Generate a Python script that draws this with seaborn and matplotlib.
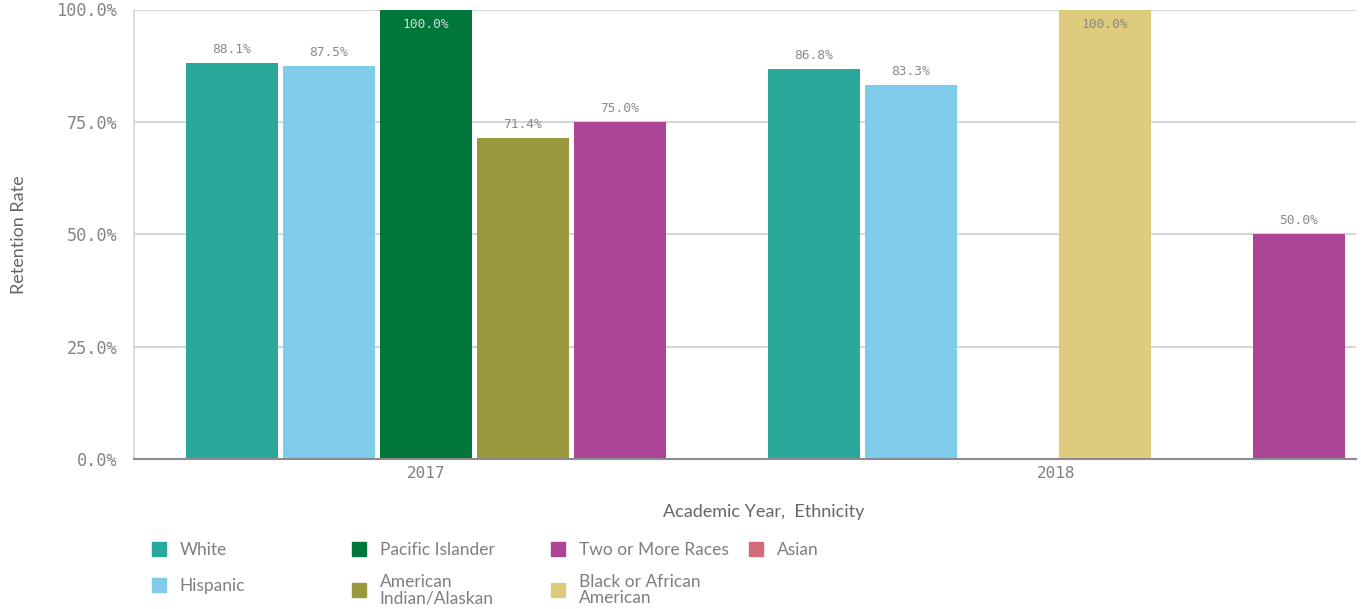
import matplotlib
matplotlib.use("Agg")
import matplotlib.pyplot as plt
from matplotlib.lines import Line2D
from matplotlib.ticker import FuncFormatter
import seaborn as sns
import pandas as pd
import numpy as np

# legend order and colours
ethnicities = ["White", "Hispanic", "Pacific Islander", "American Indian/Alaskan",
               "Two or More Races", "Black or African American", "Asian"]
colors = ["#2aa99a", "#7ecbea", "#00763a", "#9b993e", "#ad4596", "#dfcb7e", "#d46a79"]
legend_labels = ["White", "Hispanic", "Pacific Islander", "American\nIndian/Alaskan",
                 "Two or More Races", "Black or African\nAmerican", "Asian"]

years = ["2017", "2018"]

# one entry per bar slot (None = empty slot)
slot_year = ["2017"] * 5 + ["2018"] * 6
slot_ethnicity = ["White", "Hispanic", "Pacific Islander", "American Indian/Alaskan", "Two or More Races",
                  "White", "Hispanic", "Asian", "Black or African American", "Pacific Islander",
                  "Two or More Races"]
slot_rate = [88.1, 87.5, 100.0, 71.4, 75.0,
             86.8, 83.3, None, 100.0, None, 50.0]

df = pd.DataFrame({"year": slot_year, "ethnicity": slot_ethnicity, "rate": slot_rate})
df["slot"] = df["year"] + " " + df["ethnicity"]
order = list(df.loc[df.year == "2017", "slot"]) + [" "] + list(df.loc[df.year == "2018", "slot"])
plot_df = df.dropna(subset=["rate"])

sns.set_style("white")
plt.rcParams["font.family"] = ["Lato", "DejaVu Sans"]

W, H = 1361, 609
fig = plt.figure(figsize=(W / 100, H / 100), dpi=100)
ax = fig.add_axes([134 / W, 1 - 459 / H, 1222 / W, 449.5 / H])

palette = dict(zip(ethnicities, colors))
sns.barplot(data=plot_df, x="slot", y="rate", hue="ethnicity", order=order,
            hue_order=ethnicities, palette=palette, dodge=False, width=0.948,
            errorbar=None, linewidth=0, legend=False, ax=ax, saturation=1)

ax.set_ylim(0, 100)
ax.set_xlim(-1.01, 11.59)
ax.set_yticks([0, 25, 50, 75, 100])
ax.yaxis.set_major_formatter(FuncFormatter(lambda v, p: f"{v:.1f}%"))
ax.yaxis.grid(True, color="#d6d6d6", linewidth=1.5)
ax.set_axisbelow(True)

# year ticks at the centre of each group
centers = [np.mean([order.index(s) for s in df.loc[df.year == y, "slot"]]) for y in years]
ax.set_xticks(centers, labels=years)

mono = "DejaVu Sans Mono"
for t in ax.get_yticklabels():
    t.set_fontfamily(mono)
for t in ax.get_xticklabels():
    t.set_fontfamily(mono)
ax.tick_params(axis="y", length=8, color="#cfcfcf", width=1.2, pad=4, labelsize=12.2, labelcolor="#858585")
ax.tick_params(axis="x", length=0, pad=5, labelsize=11.5, labelcolor="#808080")

for s in ["top", "right"]:
    ax.spines[s].set_visible(False)
ax.spines["left"].set_color("#d4d4d4")
ax.spines["left"].set_linewidth(1.2)
ax.spines["bottom"].set_color("#8c8c8c")
ax.spines["bottom"].set_linewidth(1.5)

ax.set_ylabel("Retention Rate", fontsize=13, color="#666666")
ax.set_xlabel("Academic Year,  Ethnicity", fontsize=13, color="#666666")
ax.yaxis.set_label_coords((27 - 134) / 1222, 0.5)
ax.xaxis.set_label_coords((764 - 134) / 1222, (459 - 504) / 449.5)

# value labels
for p in ax.patches:
    h = p.get_height()
    if not np.isfinite(h) or h == 0:
        continue
    xc = p.get_x() + p.get_width() / 2
    label = f"{h:.1f}%"
    if h >= 99:
        r, g, b, _ = p.get_facecolor()
        lum = 0.299 * r + 0.587 * g + 0.114 * b
        col = "#d8d8d8" if lum < 0.5 else "#8a8a78"
        ax.annotate(label, (xc, h), xytext=(0, -6), textcoords="offset points",
                    ha="center", va="top", fontsize=9.3, color=col, family=mono)
    else:
        ax.annotate(label, (xc, h), xytext=(0, 5), textcoords="offset points",
                    ha="center", va="bottom", fontsize=9.3, color="#8a8a8a", family=mono)

# legend, one entry at a time on a fixed grid
legend_pos = [(151, 550), (151, 586.5), (351, 550), (351, 590),
              (550, 550), (550, 590), (748, 550)]
for lab, col, (lx, ly) in zip(legend_labels, colors, legend_pos):
    h = Line2D([], [], marker="s", color=col, linestyle="", markersize=10)
    leg = fig.legend(handles=[h], labels=[lab], loc="center left",
                     bbox_to_anchor=(lx / W, 1 - ly / H), frameon=False,
                     borderpad=0, borderaxespad=0, handlelength=0.95,
                     handletextpad=0.7, fontsize=12.5, labelcolor="#7f7f7f")
    for t in leg.get_texts():
        t.set_linespacing(1.0)

fig.savefig("out.png", dpi=100)
